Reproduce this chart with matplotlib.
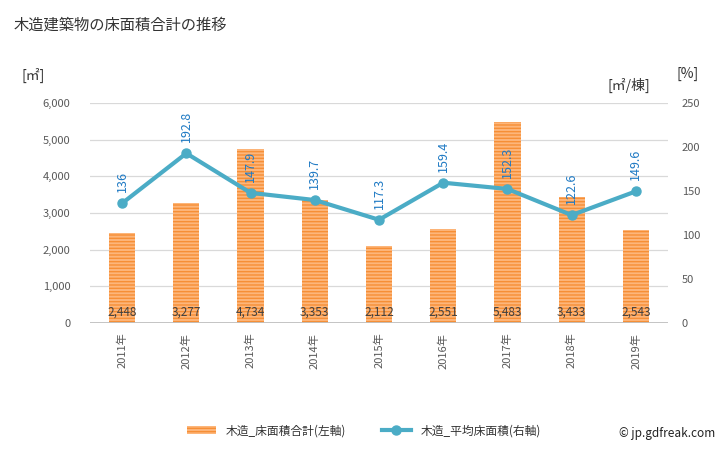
import matplotlib
matplotlib.use("Agg")
import matplotlib.pyplot as plt
import numpy as np

plt.rcParams['font.family'] = ['Noto Sans CJK JP', 'DejaVu Sans']
plt.rcParams['hatch.linewidth'] = 1.0

years = ['2011年', '2012年', '2013年', '2014年', '2015年', '2016年', '2017年', '2018年', '2019年']
floor_total = [2448, 3277, 4734, 3353, 2112, 2551, 5483, 3433, 2543]
avg_floor = [136, 192.8, 147.9, 139.7, 117.3, 159.4, 152.3, 122.6, 149.6]
avg_labels = ['136', '192.8', '147.9', '139.7', '117.3', '159.4', '152.3', '122.6', '149.6']

fig = plt.figure(figsize=(7.28, 4.5), dpi=100)
ax = fig.add_axes([0.1236, 0.2822, 0.794, 0.489])
ax2 = ax.twinx()

x = np.arange(len(years))
bars = ax.bar(x, floor_total, width=0.41, color='#fdb67a', edgecolor='#f68f36',
              linewidth=0, hatch='-----', zorder=2, label='木造_床面積合計(左軸)')
for xi, v in zip(x, floor_total):
    ax.text(xi, 300, f'{v:,}', ha='center', va='center', fontsize=8.5, color='#404040', zorder=5)

ax.set_xlim(-0.5, 8.5)
ax.set_ylim(0, 6000)
ax.set_yticks(range(0, 6001, 1000))
ax.set_yticklabels([f'{t:,}' for t in range(0, 6001, 1000)])
ax.yaxis.grid(True, color='#d9d9d9', linewidth=0.9, zorder=0)
ax.set_axisbelow(True)
ax.set_xticks(x)
ax.set_xticklabels(years, rotation=90)
for a in (ax, ax2):
    for s in ('top', 'left', 'right', 'bottom'):
        a.spines[s].set_visible(False)
ax.axhline(0, color='#bfbfbf', linewidth=2, zorder=3)
ax.tick_params(axis='both', length=0, labelsize=8, labelcolor='#595959', pad=7)
ax.tick_params(axis='y', pad=14)

ax2.plot(x, avg_floor, color='#4bacc6', linewidth=3, marker='o', markersize=6.5,
         zorder=4, label='木造_平均床面積(右軸)')
for xi, v, lab in zip(x, avg_floor, avg_labels):
    ax2.annotate(lab, (xi, v), xytext=(0, 8), textcoords='offset points', rotation=90,
                 ha='center', va='bottom', fontsize=9, color='#1f7ac4')
ax2.set_ylim(0, 250)
ax2.set_yticks(range(0, 251, 50))
ax2.tick_params(axis='y', length=0, labelsize=8, labelcolor='#595959', pad=10)

fig.text(0.019, 0.945, '木造建築物の床面積合計の推移', fontsize=11, color='#333333', va='center')
fig.text(0.030, 0.833, '[㎡]', fontsize=10, color='#333333', va='center')
fig.text(0.835, 0.81, '[㎡/棟]', fontsize=10, color='#333333', va='center')
fig.text(0.929, 0.835, '[%]', fontsize=10, color='#333333', va='center')

h1, l1 = ax.get_legend_handles_labels()
h2, l2 = ax2.get_legend_handles_labels()
fig.legend(h1 + h2, l1 + l2, loc='center', bbox_to_anchor=(0.50, 0.043), ncol=2,
           frameon=False, fontsize=8.5, handlelength=2.5, columnspacing=3.0,
           labelcolor='#333333')
fig.text(0.982, 0.036, '© jp.gdfreak.com', fontsize=8.5, color='#222222', ha='right', va='center')

fig.savefig('out.png', dpi=100)
